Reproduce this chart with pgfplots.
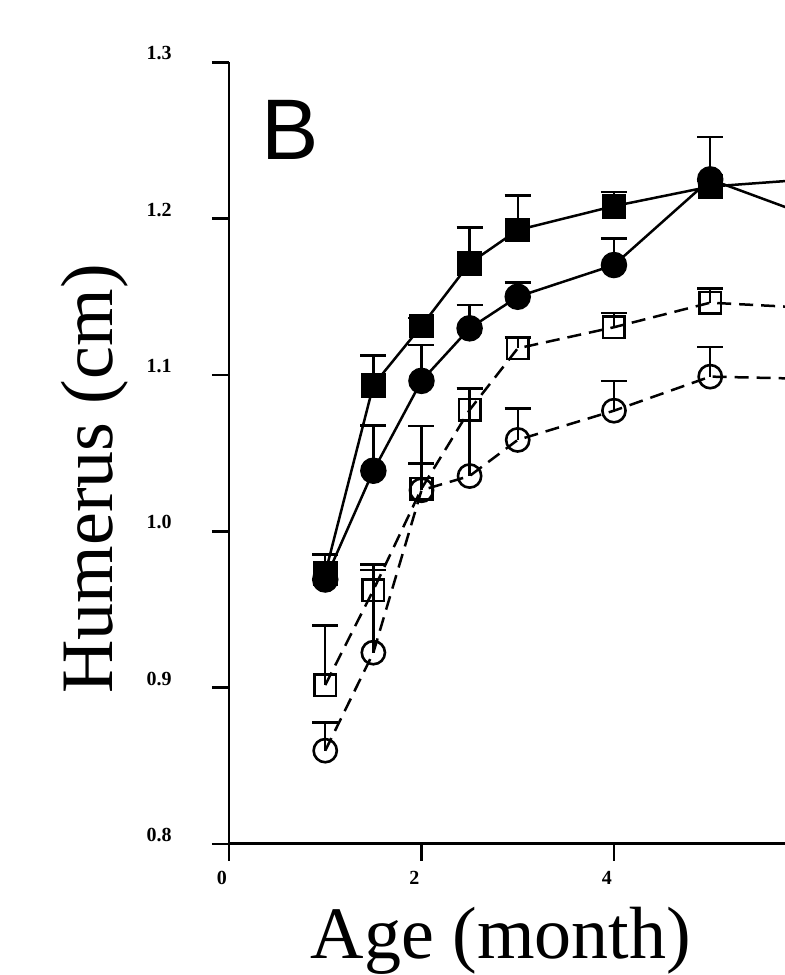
\documentclass[border=0pt]{standalone}
\usepackage{fontspec}
\setmainfont{Liberation Serif}
\newfontfamily\arial{Liberation Sans}
\usepackage{pgfplots}
\pgfplotsset{compat=1.18}

% humerus length, mean and upper SD
\pgfplotstableread{
x     y       e
1     0.9731  0.012
1.5   1.0935  0.019
2     1.1313  0.005
2.5   1.1714  0.023
3     1.1927  0.022
4     1.2080  0.009
5     1.2205  0.004
6     1.2250  0
}\fsq
\pgfplotstableread{
x     y       e
1     0.9691  0.016
1.5   1.0387  0.029
2     1.0962  0.023
2.5   1.1298  0.015
3     1.1500  0.009
4     1.1703  0.017
5     1.2251  0.027
6     1.2024  0
}\fci
\pgfplotstableread{
x     y       e
1     0.9016  0.038
1.5   0.9623  0.013
2     1.0272  0.040
2.5   1.0776  0.014
3     1.1170  0.007
4     1.1305  0.009
5     1.1462  0.009
6     1.1430  0
}\osq
\pgfplotstableread{
x     y       e
1     0.8596  0.018
1.5   0.9223  0.0565
2     1.0262  0.017
2.5   1.0353  0.056
3     1.0584  0.020
4     1.0771  0.019
5     1.0989  0.019
6     1.0975  0
}\oci

\begin{document}
\begin{tikzpicture}
\begin{axis}[
  scale only axis, width=278pt, height=390.75pt,
  xmin=0, xmax=5.777, ymin=0.8, ymax=1.3,
  axis lines*=left,
  axis line style={line width=1.4pt},
  xtick={0,2,4,6}, ytick={0.8,0.9,...,1.3},
  tick align=outside, major tick length=8.5pt,
  tick style={line width=1.3pt, black},
  /pgf/number format/assume math mode=true,
  tick label style={font=\fontsize{10pt}{12pt}\selectfont\bfseries},
  yticklabel style={/pgf/number format/fixed, /pgf/number format/fixed zerofill, /pgf/number format/precision=1},
  yticklabel style={anchor=east, inner sep=0pt, xshift=-20pt, yshift=4.5pt},
  xticklabel style={anchor=north, inner sep=0pt, yshift=-5pt, xshift=-3.5pt},
  xlabel={Age (month)}, ylabel={Humerus (cm)},
  label style={font=\fontsize{37pt}{40pt}\selectfont},
  xlabel style={at={(axis description cs:0.489,-0.1465)}, anchor=base},
  ylabel style={at={(axis description cs:-0.2104,0.4668)}, anchor=base},
  every axis plot/.append style={line width=1.25pt, black},
  error bars/y dir=plus, error bars/y explicit,
  error bars/error bar style={line width=1.2pt, solid},
  error bars/error mark options={rotate=90, mark size=6.5pt, line width=1.2pt, solid},
  clip=true,
]
\addplot[mark=square*, mark size=5.6pt, mark options={fill=black}] table[x=x, y=y, y error=e] {\fsq};
\addplot[mark=*, mark size=6pt, mark options={fill=black}] table[x=x, y=y, y error=e] {\fci};
\addplot[dash pattern=on 7pt off 4pt, mark=square, mark size=5.4pt, mark options={solid, fill=none, line width=1.3pt}] table[x=x, y=y, y error=e] {\osq};
\addplot[dash pattern=on 7pt off 4pt, mark=o, mark size=5.8pt, mark options={solid, fill=none, line width=1.3pt}] table[x=x, y=y, y error=e] {\oci};
\node[anchor=base west, inner sep=0pt, font=\arial\fontsize{43pt}{46pt}\selectfont] at (axis description cs:0.0576,0.875) {B};
\coordinate (bl) at (axis description cs:-0.41187,-0.16788);
\coordinate (tr) at (axis description cs:1,1.07972);
\end{axis}
\pgfresetboundingbox
\path[use as bounding box] (bl) rectangle (tr);
\end{tikzpicture}
\end{document}
